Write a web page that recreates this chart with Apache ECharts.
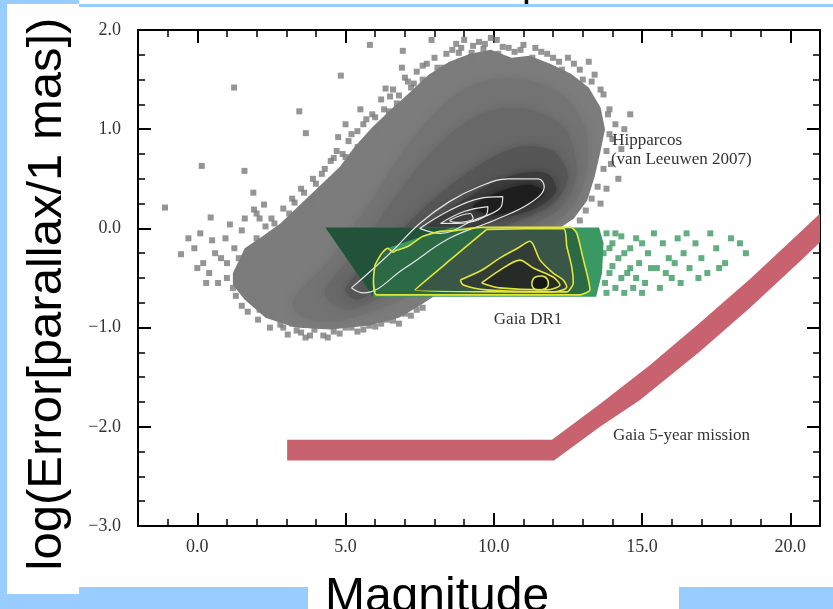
<!DOCTYPE html>
<html><head><meta charset="utf-8">
<script src="https://cdn.jsdelivr.net/npm/echarts@6/dist/echarts.min.js"></script>
<style>html,body{margin:0;padding:0;background:#99ccff}#c{width:833px;height:609px}</style>
</head><body><div id="c"></div><script>
// ---------- data ----------
const xAxisTitle = 'Magnitude';
const yAxisTitle = 'log(Error[parallax/1 mas])';
const annTexts = ['Hipparcos', '(van Leeuwen 2007)', 'Gaia DR1', 'Gaia 5-year mission'];

// Hipparcos individual stars (fringe of the cloud)
const hippX = [5.82,6.93,4.84,1.24,3.44,3.66,4.75,4.60,0.15,1.59,-1.09,1.89,2.25,3.28,3.86,3.87,0.45,1.91,2.0,7.74,6.35,7.21,8.73,9.25,9.65,10.15,8.82,8.83,9.31,10.43,6.73,6.46,5.41,6.05,5.09,4.53,
 5.6,5.9,6.2,6.6,7.0,7.4,7.6,8.0,8.3,8.6,9.0,9.5,9.9,10.3,10.7,11.0,11.3,11.6,12.0,12.3,12.7,13.0,13.4,13.7,13.9,14.1,14.0,14.3,13.95,14.2,13.8,13.6,14.4,14.6,13.2,4.3,4.9,5.2,4.0,3.5,3.1,2.6,5.0,5.5,6.9,7.9,
 -0.55,0.2,0.5,0.8,1.0,1.25,1.3,1.5,1.7,1.9,2.05,2.3,2.45,2.8,3.05,3.35,3.65,3.95,4.25,4.6,5.0,5.4,5.8,6.2,6.6,7.0,7.4,0.95,1.1,0.7,0.4,-0.1,0.1,
 2.5,2.9,3.2,3.6,3.9,4.2,4.5,4.7,5.0,5.1,5.4,5.7,6.0,6.3,6.5,6.8,7.1,7.3,7.6,8.1,8.4,8.9,9.3,9.7,10.1,10.5,10.9,11.4,11.8,12.2,12.5,12.9,13.3,13.6,13.85,13.9,13.8,13.7,13.5,13.3,13.1,12.9,
 1.4,1.2,1.5,1.9,2.1,2.6,2.9,3.2,3.5,3.8,4.1,4.4,4.8,5.2,5.6,6.0,6.4,6.8,7.2,7.6,1.0,0.6,0.3,1.6,2.0,2.1,0.0,-0.3];
const hippY = [1.85,1.79,1.54,1.42,1.18,0.96,0.92,0.71,0.63,0.58,0.21,0.36,0.24,0.26,0.29,0.20,0.11,0.19,0.15,1.66,1.41,1.42,1.86,1.77,1.81,1.76,1.77,1.68,1.68,1.69,1.26,1.18,0.82,0.97,0.56,0.48,
 1.05,1.15,1.3,1.4,1.52,1.58,1.5,1.72,1.62,1.8,1.9,1.88,1.92,1.83,1.78,1.85,1.72,1.78,1.72,1.6,1.66,1.5,1.55,1.35,1.2,1.05,0.9,0.8,0.65,0.5,0.4,0.25,1.0,1.15,1.68,0.6,0.75,0.95,0.45,0.4,0.15,0.05,1.05,1.2,1.62,1.9,
 -0.26,-0.35,-0.12,-0.3,-0.5,-0.2,-0.68,-0.02,-0.84,-0.35,-0.92,0.02,-1.0,-0.97,-1.07,-1.03,-1.1,-1.02,-1.08,-1.04,-1.0,-1.04,-0.98,-0.96,-0.93,-0.86,-0.82,-0.1,0.04,-0.55,-0.45,-0.2,-0.05,
 0.1,0.2,0.3,0.36,0.5,0.55,0.68,0.78,0.72,0.88,0.98,1.1,1.12,1.2,1.33,1.34,1.48,1.46,1.64,1.62,1.76,1.82,1.84,1.86,1.9,1.82,1.8,1.82,1.76,1.68,1.72,1.6,1.48,1.4,1.15,0.95,0.78,0.6,0.42,0.3,0.18,0.08,
 -0.3,-0.6,-0.78,-0.7,-0.82,-0.88,-1.0,-0.96,-1.05,-1.08,-0.98,-1.1,-1.06,-1.0,-1.02,-0.99,-0.92,-0.96,-0.88,-0.8,-0.35,-0.25,-0.55,0.1,-0.1,0.1,-0.4,-0.1];

// Gaia DR1 individual stars beyond the dense area
const gaiaX = [13.8,14.0,14.2,14.3,14.5,14.6,14.8,14.9,15.1,15.2,15.4,15.5,15.7,15.9,16.0,16.2,16.4,16.6,16.8,17.0,17.3,17.5,17.8,18.0,18.3,14.1,14.7,13.9,15.6,16.5,17.2,
 13.7,13.75,13.9,14.0,14.1,14.3,14.4,14.6,14.8,15.0,15.3,15.8,16.1,16.3,16.9,17.6,18.5,13.8,14.4,15.0];
const gaiaY = [-0.05,-0.15,-0.3,-0.08,-0.45,-0.2,-0.1,-0.35,-0.55,-0.25,-0.05,-0.4,-0.15,-0.3,-0.5,-0.1,-0.25,-0.4,-0.15,-0.3,-0.05,-0.2,-0.35,-0.1,-0.15,-0.6,-0.6,-0.45,-0.6,-0.05,-0.45,
 -0.25,-0.55,-0.2,-0.38,-0.05,-0.5,-0.25,-0.4,-0.5,-0.15,-0.4,-0.45,-0.35,-0.55,-0.5,-0.4,-0.25,-0.65,-0.65,-0.65];

// Hipparcos density layers (outlines, outer to inner)
const hippL1 = [[1.2,-0.45],[1.6,-0.2],[2.2,-0.08],[2.8,0.05],[3.4,0.22],[4.1,0.42],[4.8,0.62],[5.3,0.82],[5.9,1.02],[6.6,1.22],[7.2,1.38],[7.8,1.55],[8.5,1.68],[9.2,1.76],[9.9,1.8],[10.6,1.72],[11.2,1.74],[11.9,1.66],[12.6,1.56],[13.2,1.42],[13.6,1.22],[13.75,1.0],[13.6,0.78],[13.4,0.52],[13.15,0.28],[12.7,0.1],[12.2,0.0],[11.5,-0.12],[8.9,-0.5],[7.5,-0.78],[6.8,-0.9],[5.8,-0.98],[4.5,-1.02],[3.3,-1.0],[2.3,-0.9],[1.6,-0.72],[1.2,-0.57]];
const hippL2 = [[3.2,-0.75],[4.5,-0.3],[5.8,0.25],[7.0,0.8],[8.3,1.25],[9.6,1.48],[11.0,1.5],[12.3,1.35],[13.1,1.0],[13.1,0.55],[12.6,0.2],[11.5,-0.05],[9.0,-0.35],[7.0,-0.7],[5.0,-0.92],[3.8,-0.92]];
const hippL3 = [[4.3,-0.65],[5.6,-0.15],[7.0,0.45],[8.4,0.92],[9.8,1.18],[11.2,1.2],[12.4,1.0],[12.8,0.6],[12.4,0.25],[11.2,0.02],[9.0,-0.25],[7.0,-0.55],[5.2,-0.82]];
const hippL4 = [[5.0,-0.6],[6.3,-0.2],[7.8,0.25],[9.3,0.6],[10.8,0.82],[12.0,0.78],[12.5,0.52],[12.0,0.25],[10.6,0.05],[8.6,-0.18],[6.6,-0.5],[5.4,-0.72]];
const hippL5 = [[6.5,-0.3],[8.0,0.08],[9.5,0.38],[10.8,0.55],[11.8,0.55],[12.1,0.38],[11.4,0.2],[10.0,0.08],[8.3,-0.12]];
const hippL6 = [[9.3,0.22],[10.3,0.38],[11.2,0.44],[11.7,0.36],[11.0,0.22],[10.0,0.14]];

// Gaia DR1 dense area and its inner shading
const gaiaArea = [[4.32,0.01],[13.55,0.01],[13.7,-0.15],[13.65,-0.45],[13.45,-0.69],[5.93,-0.69]];
const gaiaLeft = [[4.32,0.01],[8.6,0.01],[7.6,-0.08],[6.4,-0.2],[5.95,-0.4],[5.93,-0.69]];

// Hipparcos contours (white)
const hippC1 = [[5.2,-0.6],[6.5,-0.25],[7.5,0.05],[8.5,0.27],[9.5,0.42],[10.5,0.5],[11.5,0.5],[11.7,0.42],[11.2,0.25],[10,0.08],[8.5,-0.1],[7,-0.4],[5.6,-0.65]];
const hippC2 = [[7.5,0.0],[8.5,0.18],[9.5,0.3],[10.3,0.32],[10.2,0.2],[9.3,0.08],[8.2,-0.05]];
const hippC3 = [[8.2,0.05],[9.0,0.17],[9.8,0.22],[9.7,0.12],[8.8,0.05]];
const hippC4 = [[8.5,0.08],[9.2,0.15],[9.3,0.1],[8.7,0.06]];

// Gaia DR1 contours (yellow)
const gaiaC1 = [[5.99,-0.37],[6.2,-0.26],[6.42,-0.2],[6.6,-0.24],[6.72,-0.22],[6.95,-0.2],[7.17,-0.17],[7.4,-0.12],[7.61,-0.08],[8.18,-0.03],[8.75,-0.02],[9.53,0.01],[12.6,0.01],[12.8,-0.05],[13.0,-0.29],[13.19,-0.52],[13.24,-0.62],[12.9,-0.67],[6.05,-0.67],[5.94,-0.52]];
const gaiaC2 = [[9.76,-0.01],[12.35,0.0],[12.46,-0.18],[12.63,-0.39],[12.68,-0.55],[12.46,-0.64],[7.34,-0.62],[8.6,-0.3]];
const gaiaC3 = [[8.87,-0.52],[9.6,-0.42],[10.2,-0.3],[10.8,-0.2],[11.22,-0.13],[11.56,-0.32],[12.0,-0.45],[12.34,-0.52],[12.46,-0.59],[12.0,-0.64],[9.76,-0.62],[8.97,-0.57]];
const gaiaC4 = [[9.59,-0.55],[10.21,-0.42],[10.88,-0.32],[11.33,-0.40],[12.0,-0.49],[12.23,-0.57],[11.78,-0.62],[10.21,-0.60]];
const gaiaC5 = [[11.28,-0.55],[11.4,-0.49],[11.6,-0.48],[11.8,-0.51],[11.84,-0.56],[11.7,-0.61],[11.5,-0.62],[11.33,-0.6]];

// Gaia 5-year mission band
const bandUpper = [[3.03,-2.13],[11.96,-2.13],[13.58,-1.77],[15.26,-1.38],[16.95,-0.95],[18.64,-0.51],[20.33,-0.04],[21.0,0.15]];
const bandLower = [[3.03,-2.34],[12.03,-2.34],[13.58,-2.0],[14.93,-1.73],[16.95,-1.24],[18.64,-0.80],[20.33,-0.33],[21.0,-0.14]];

// ---------- chart ----------
const chart = echarts.init(document.getElementById('c'), null, {renderer: 'canvas'});
const zip = (xs, ys) => xs.map((x, i) => [x, ys[i]]);

function poly(pts, fill, z, blur) {
  return {
    type: 'custom', coordinateSystem: 'cartesian2d', z: z, silent: true, clip: true,
    data: [pts[0]],
    renderItem: (params, api) => ({
      type: 'polygon',
      shape: {points: pts.map(p => api.coord(p)), smooth: blur ? 0.3 : 0},
      style: {fill: fill, shadowBlur: blur || 0, shadowColor: fill}
    })
  };
}
function loop(pts, color, width, z, smooth) {
  return {
    type: 'line', data: pts.concat([pts[0]]), smooth: smooth, symbol: 'none', showSymbol: false,
    lineStyle: {color: color, width: width}, z: z, silent: true
  };
}
const serifFont = '"Liberation Serif", "DejaVu Serif", serif';
const fmt = v => (v < 0 ? '\u2212' : '') + Math.abs(v).toFixed(1);

function xAx(pos, showLabel) {
  return {
    type: 'value', position: pos, min: -2, max: 21, splitNumber: 5, minInterval: 5, maxInterval: 5,
    axisLine: {show: true, onZero: false, lineStyle: {color: '#000', width: 2}},
    axisTick: {show: true, inside: true, length: 13, lineStyle: {color: '#000', width: 2}},
    minorTick: {show: true, splitNumber: 5, length: 7, lineStyle: {color: '#000', width: 1.5}},
    splitLine: {show: false},
    axisLabel: {show: showLabel, margin: 12, color: '#333', fontFamily: serifFont, fontSize: 18,
      formatter: v => (Math.abs(v % 5) < 1e-9 ? fmt(v) : '')}
  };
}
function yAx(pos, showLabel) {
  return {
    type: 'value', position: pos, min: -3, max: 2, interval: 1,
    axisLine: {show: true, onZero: false, lineStyle: {color: '#000', width: 2}},
    axisTick: {show: true, inside: true, length: 13, lineStyle: {color: '#000', width: 2}},
    minorTick: {show: true, splitNumber: 4, length: 7, lineStyle: {color: '#000', width: 1.5}},
    splitLine: {show: false},
    axisLabel: {show: showLabel, margin: 17, color: '#333', fontFamily: serifFont, fontSize: 18, formatter: fmt}
  };
}

const annPos = [[13.99, 0.89], [13.95, 0.69], [10.0, -0.92], [14.02, -2.09]];
const sans = '"Liberation Sans", Arial, sans-serif';

const option = {
  animation: false,
  backgroundColor: '#99ccff',
  grid: {left: 138, right: 13, top: 30, bottom: 83, outerBoundsMode: 'none', containLabel: false},
  xAxis: [xAx('bottom', true), xAx('top', false)],
  yAxis: [yAx('left', true), yAx('right', false)],
  graphic: {elements: [
    {type: 'rect', shape: {x: 79, y: 0, width: 754, height: 4}, style: {fill: '#ffffff'}, z: -100, silent: true},
    {type: 'rect', shape: {x: 7, y: 7, width: 826, height: 580}, style: {fill: '#ffffff'}, z: -100, silent: true},
    {type: 'rect', shape: {x: 7, y: 4, width: 72, height: 590}, style: {fill: '#ffffff'}, z: -100, silent: true},
    {type: 'rect', shape: {x: 308, y: 560, width: 371, height: 49}, style: {fill: '#ffffff'}, z: -100, silent: true},
    {type: 'text', x: 522, y: -15, z: 100, silent: true, style: {text: 'p', font: '40px ' + sans, fill: '#000', verticalAlign: 'middle'}},
    {type: 'text', x: 47, y: 294, rotation: Math.PI / 2, z: 100, silent: true,
      style: {text: yAxisTitle, font: '49px ' + sans, fill: '#000', align: 'center', verticalAlign: 'middle'}},
    {type: 'text', x: 437, y: 598, z: 100, silent: true,
      style: {text: xAxisTitle, font: '48px ' + sans, fill: '#000', align: 'center', verticalAlign: 'middle'}}
  ]},
  series: [
    poly(hippL1, '#7c7c7c', 2),
    poly(hippL2, '#737373', 2, 10),
    poly(hippL3, '#686868', 2, 10),
    poly(hippL4, '#565656', 2, 10),
    poly(hippL5, '#3c3c3c', 2, 8),
    poly(hippL6, '#1e1e1e', 2, 6),
    {type: 'scatter', data: zip(hippX, hippY), symbol: 'rect', symbolSize: 6, itemStyle: {color: '#7b7b7b'}, z: 3, silent: true},
    poly(gaiaArea, '#3a9862', 4),
    poly(gaiaC1, '#2b6a45', 4),
    poly(gaiaLeft, '#22523a', 4),
    poly(gaiaC2, '#3a5646', 4),
    poly(gaiaC3, '#323d36', 4),
    poly(gaiaC4, '#262b28', 4),
    poly(gaiaC5, '#161816', 4),
    {type: 'scatter', data: zip(gaiaX, gaiaY), symbol: 'rect', symbolSize: 6, itemStyle: {color: '#3c9a62'}, z: 4, silent: true},
    loop(hippC1, '#e4e4e4', 1.2, 5, 0.4),
    loop(hippC2, '#e4e4e4', 1.2, 5, 0.4),
    loop(hippC3, '#e4e4e4', 1.2, 5, 0.4),
    loop(hippC4, '#e4e4e4', 1.2, 5, 0.4),
    loop(gaiaC1, '#e3e63a', 1.6, 6, 0.2),
    loop(gaiaC2, '#e3e63a', 1.6, 6, 0.2),
    loop(gaiaC3, '#e3e63a', 1.6, 6, 0.3),
    loop(gaiaC4, '#e3e63a', 1.6, 6, 0.3),
    loop(gaiaC5, '#e3e63a', 1.6, 6, 0.5),
    poly(bandUpper.concat(bandLower.slice().reverse()), '#c8626e', 7),
    {type: 'custom', coordinateSystem: 'cartesian2d', z: 8, silent: true, data: annPos,
      renderItem: (params, api) => {
        const p = api.coord([api.value(0), api.value(1)]);
        return {type: 'text', x: p[0], y: p[1], style: {text: annTexts[params.dataIndex], font: '17px ' + serifFont,
          fill: '#333', align: 'left', verticalAlign: 'middle', textAlign: 'left', textVerticalAlign: 'middle'}};
      }}
  ]
};
chart.setOption(option);
</script></body></html>
